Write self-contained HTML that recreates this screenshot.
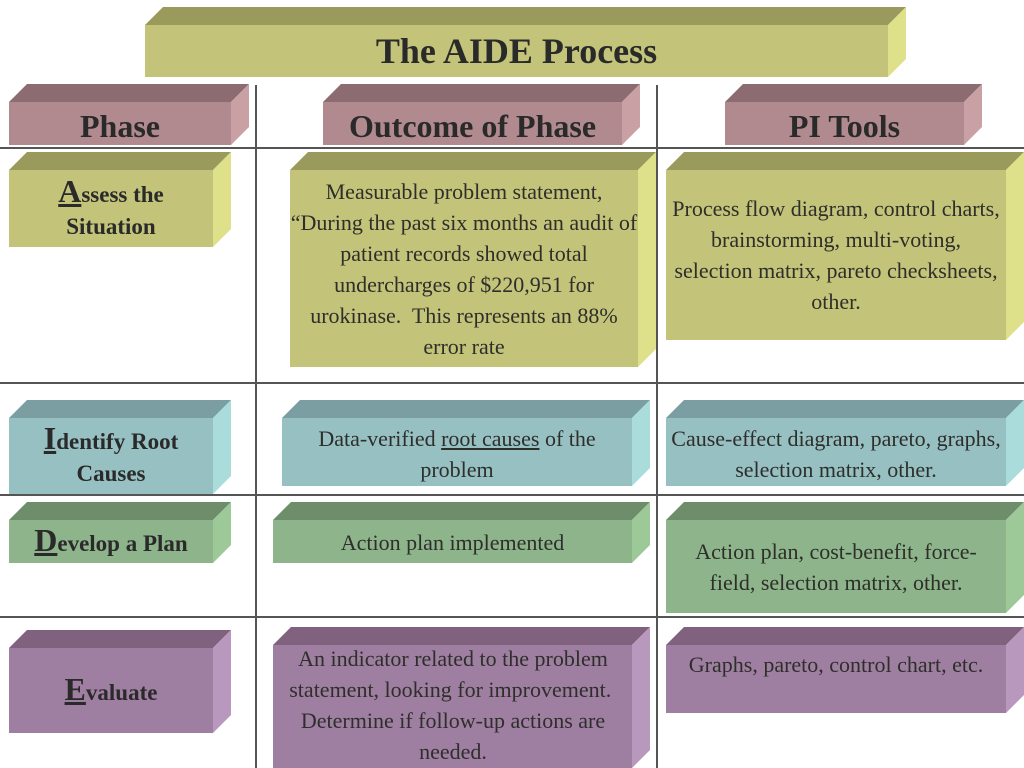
<!DOCTYPE html>
<html><head><meta charset="utf-8">
<style>
html,body{margin:0;padding:0;background:#fff;}
#wrap{position:relative;width:1024px;height:768px;overflow:hidden;font-family:"Liberation Serif",serif;color:#2e2e2a;}
svg{position:absolute;left:0;top:0;}
.t{position:absolute;display:flex;align-items:center;justify-content:center;text-align:center;box-sizing:border-box;}
.b{font-size:22px;line-height:31px;}
.h{font-weight:bold;font-size:32px;color:#2a2a2a;}
.p{font-weight:bold;font-size:23px;line-height:32px;color:#2a2a2a;}
.p u{font-size:32px;}
</style></head><body><div id="wrap">
<svg width="1024" height="768" viewBox="0 0 1024 768">
<g stroke="#555" stroke-width="2">
<line x1="256" y1="85" x2="256" y2="768"/>
<line x1="657" y1="85" x2="657" y2="768"/>
<line x1="0" y1="148" x2="1024" y2="148"/>
<line x1="0" y1="383" x2="1024" y2="383"/>
<line x1="0" y1="495" x2="1024" y2="495"/>
<line x1="0" y1="617" x2="1024" y2="617"/>
</g>
<!-- box: front x1..x2, y1..y2, depth d -->
<g id="boxes"></g>
</svg>
<script>
(function(){
var C={o:["#c3c47a","#9a9a5c","#dfe08a"],r:["#b08a8e","#8c6c70","#c9a0a4"],t:["#97c0c3","#7a9ea1","#aadcdc"],g:["#8db48a","#6e8d6b","#9dc898"],u:["#9f7fa1","#80627f","#b898bc"]};
var B=[["o",145,25,888,77,18],["r",9,102,231,145,18],["r",323,102,622,145,18],["r",725,102,964,145,18],
["o",9,170,213,247,18],["o",290,170,638,367,18],["o",666,170,1006,340,18],
["t",9,418,213,494,18],["t",282,418,632,486,18],["t",666,418,1006,486,18],
["g",9,520,213,563,18],["g",273,520,632,563,18],["g",666,520,1006,613,18],
["u",9,648,213,733,18],["u",273,645,632,768,18],["u",666,645,1006,713,18]];
var s="";
B.forEach(function(b){var c=C[b[0]],x1=b[1],y1=b[2],x2=b[3],y2=b[4],d=b[5];
s+='<polygon points="'+x1+','+y1+' '+(x1+d)+','+(y1-d)+' '+(x2+d)+','+(y1-d)+' '+x2+','+y1+'" fill="'+c[1]+'"/>';
s+='<polygon points="'+x2+','+y1+' '+(x2+d)+','+(y1-d)+' '+(x2+d)+','+(y2-d)+' '+x2+','+y2+'" fill="'+c[2]+'"/>';
s+='<rect x="'+x1+'" y="'+y1+'" width="'+(x2-x1)+'" height="'+(y2-y1)+'" fill="'+c[0]+'"/>';});
document.getElementById("boxes").innerHTML=s;})();
</script>
<div class="t h" style="left:145px;top:25px;width:743px;height:52px;font-size:36px;">The AIDE Process</div>
<div class="t h" style="left:9px;top:102px;width:222px;height:48px;">Phase</div>
<div class="t h" style="left:323px;top:102px;width:299px;height:48px;">Outcome of Phase</div>
<div class="t h" style="left:725px;top:102px;width:239px;height:48px;">PI Tools</div>

<div class="t p" style="left:9px;top:170px;width:204px;height:77px;"><div><u>A</u>ssess the<br>Situation</div></div>
<div class="t b" style="left:290px;top:170px;width:348px;height:197px;"><div>Measurable problem statement, “During the past six months an audit of patient records showed total undercharges of $220,951 for urokinase.&nbsp; This represents an 88% error rate</div></div>
<div class="t b" style="left:672px;top:170px;width:328px;height:170px;"><div>Process flow diagram, control charts, brainstorming, multi-voting, selection matrix, pareto checksheets, other.</div></div>

<div class="t p" style="left:9px;top:418px;width:204px;height:76px;"><div><u>I</u>dentify Root<br>Causes</div></div>
<div class="t b" style="left:282px;top:418px;width:350px;height:68px;align-items:flex-start;padding-top:5px;"><div>Data-verified <u>root causes</u> of the problem</div></div>
<div class="t b" style="left:666px;top:418px;width:340px;height:68px;align-items:flex-start;padding-top:5px;"><div>Cause-effect diagram, pareto, graphs, selection matrix, other.</div></div>

<div class="t p" style="left:9px;top:520px;width:204px;height:43px;"><div><u>D</u>evelop a Plan</div></div>
<div class="t b" style="left:273px;top:520px;width:359px;height:43px;align-items:flex-start;padding-top:7px;"><div>Action plan implemented</div></div>
<div class="t b" style="left:680px;top:520px;width:312px;height:93px;"><div>Action plan, cost-benefit, force-field, selection matrix, other.</div></div>

<div class="t p" style="left:9px;top:648px;width:204px;height:85px;"><div><u>E</u>valuate</div></div>
<div class="t b" style="left:283px;top:643px;width:340px;height:125px;align-items:flex-start;"><div>An indicator related to the problem statement, looking for improvement.&nbsp; Determine if follow-up actions are needed.</div></div>
<div class="t b" style="left:676px;top:645px;width:320px;height:68px;align-items:flex-start;padding-top:4px;"><div>Graphs, pareto, control chart, etc.</div></div>
</div></body></html>
